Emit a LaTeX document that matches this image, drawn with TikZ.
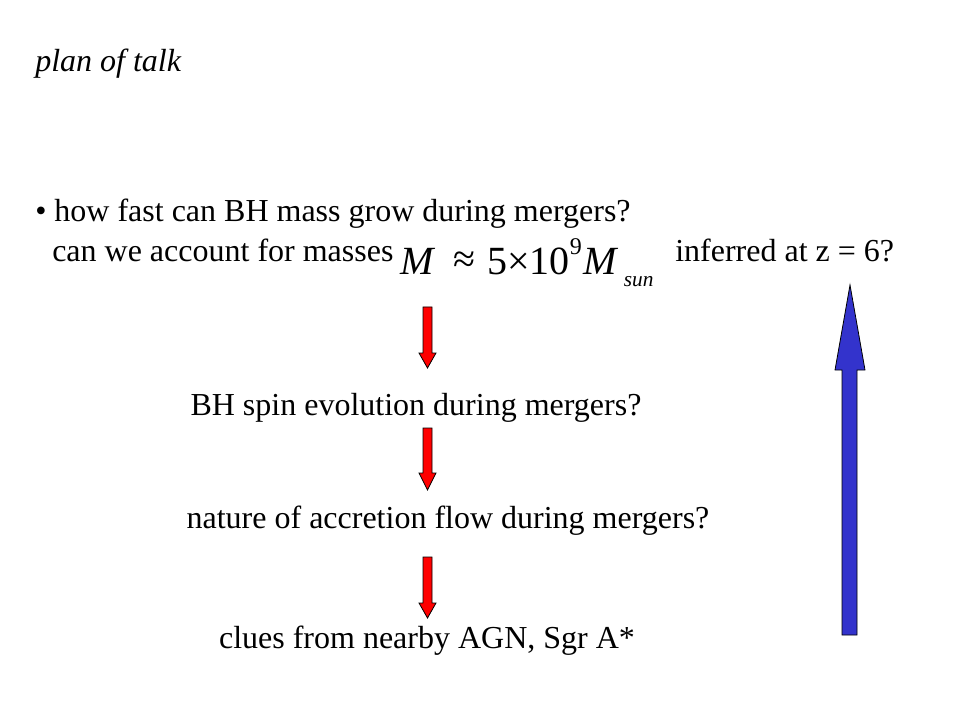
\documentclass[tikz,border=0pt]{standalone}
\usepackage{fontspec}
\setmainfont{Liberation Serif}
\definecolor{arrred}{RGB}{255,0,0}
\definecolor{arrblue}{RGB}{51,51,204}
\begin{document}
\begin{tikzpicture}[x=0.75pt,y=-0.75pt,
  txt/.style={inner sep=0pt,anchor=base west,font=\fontsize{24}{28}\selectfont},
  ctxt/.style={inner sep=0pt,anchor=base,font=\fontsize{24}{28}\selectfont},
  redarrow/.style={fill=arrred,draw=black,line width=0.6pt,line join=miter},
  bluearrow/.style={fill=arrblue,draw=black,line width=0.6pt,line join=miter}]
\useasboundingbox[fill=white] (0,0) rectangle (960,720);
\node[txt,font=\fontsize{24}{28}\selectfont\itshape] (title) at (35,72) {plan of talk};
\node[txt] (q1) at (35,222) {\textbullet\ how fast can BH mass grow during mergers?};
\node[txt] (q1b) at (52,262) {can we account for masses};
\node[txt,font=\fontsize{30}{34}\selectfont] (form) at (400,275)
  {\textit{M}\hspace{0.45em}\raisebox{0.05em}{≈}\hspace{0.3em}5×10\raisebox{0.5em}{\fontsize{18}{20}\selectfont 9}\hspace{0.05em}\textit{M}\hspace{0.12em}\raisebox{-0.3em}{\fontsize{16}{18}\selectfont\itshape sun}};
\node[txt] (q1c) at (675,262) {inferred at z = 6?};
\node[ctxt] (q2) at (416,415) {BH spin evolution during mergers?};
\node[ctxt] (q3) at (448,528) {nature of accretion flow during mergers?};
\node[ctxt] (q4) at (427,648) {clues from nearby AGN, Sgr A*};
% red arrows
\foreach \t/\b/\p in {307/353/368, 428/473/490, 557/603/618}{
  \draw[redarrow] (423,\t) -- (432,\t) -- (432,\b) -- (436,\b) -- (427.5,\p) -- (419,\b) -- (423,\b) -- cycle;
}
% blue arrow
\draw[bluearrow] (842,635) -- (857,635) -- (857,370) -- (865,370) -- (850,285) -- (835,370) -- (842,370) -- cycle;
\end{tikzpicture}
\end{document}
